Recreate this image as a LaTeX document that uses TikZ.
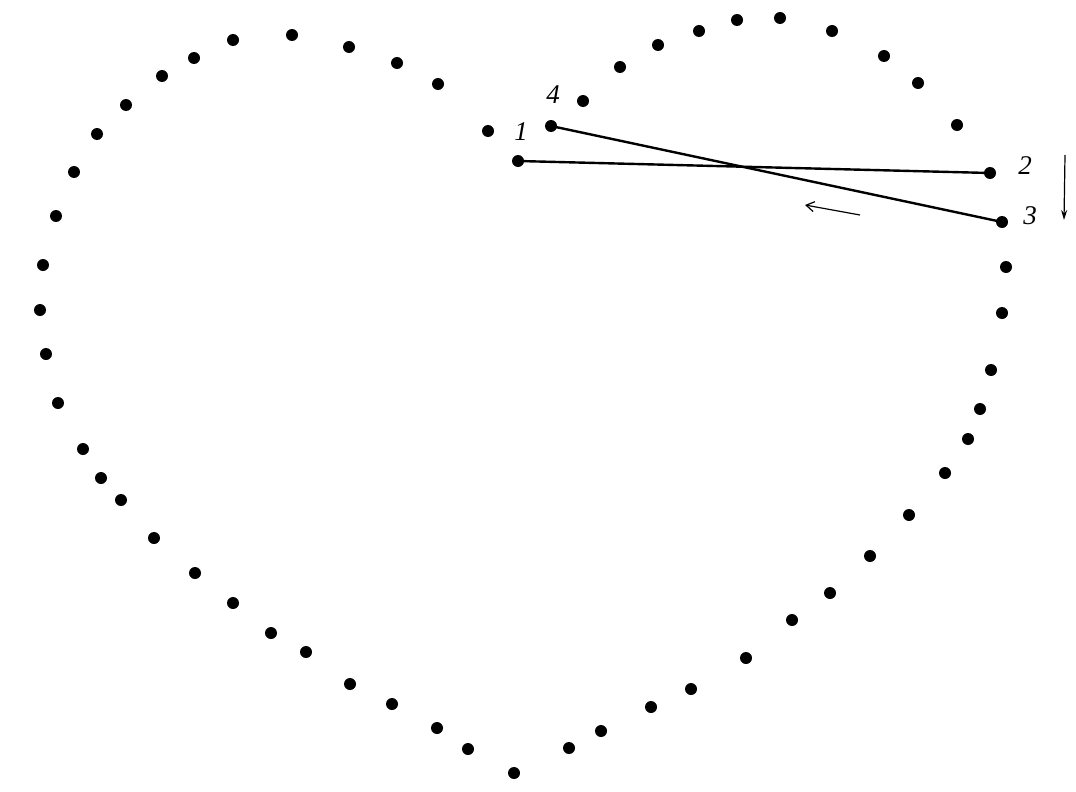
\documentclass[tikz,border=0pt]{standalone}
\usepackage{fontspec}
\setmainfont{Liberation Serif}
\usetikzlibrary{arrows.meta}
\begin{document}
\begin{tikzpicture}[x=1pt,y=-1pt,
  dotpt/.style={circle,fill=black,inner sep=0pt,minimum size=12pt},
  lbl/.style={font=\itshape\fontsize{27}{29}\selectfont,inner sep=0pt},
  seg/.style={line width=2.4pt},
  thinarrow/.style={line width=1.2pt,-{Stealth[length=10pt,width=6pt]}},
  openarrow/.style={line width=1.2pt,-{Straight Barb[length=8pt,width=10pt]}}]
\useasboundingbox[fill=white] (0,0) rectangle (1076,792);
\foreach \x/\y [count=\i] in {488/131,438/84,397/63,349/47,292/35,233/40,194/58,162/76,126/105,97/134,74/172,56/216,43/265,40/310,46/354,58/403,83/449,101/478,121/500,154/538,195/573,233/603,271/633,306/652,350/684,392/704,437/728,468/749,514/773,569/748,601/731,651/707,691/689,746/658,792/620,830/593,870/556,909/515,945/473,968/439,980/409,991/370,1002/313,1006/267,957/125,918/83,884/56,832/31,780/18,737/20,699/31,658/45,620/67,583/101}
  \node[dotpt] (d\i) at (\x,\y) {};
\node[dotpt] (p1) at (518,161) {};
\node[dotpt] (p2) at (990,173) {};
\node[dotpt] (p3) at (1002,222) {};
\node[dotpt] (p4) at (551,126) {};
\draw[seg] (p1.center) -- (p2.center);
\draw[seg] (p4.center) -- (p3.center);
\node[lbl] (l1) at (521,132) {1};
\node[lbl] (l2) at (1025,166) {2};
\node[lbl] (l3) at (1030,216) {3};
\node[lbl] (l4) at (553,95) {4};
\coordinate (va) at (1065,155);
\coordinate (vb) at (1064,220);
\draw[thinarrow] (va) -- (vb);
\coordinate (ha) at (860,215);
\coordinate (hb) at (805,205);
\draw[openarrow] (ha) -- (hb);
\end{tikzpicture}
\end{document}
